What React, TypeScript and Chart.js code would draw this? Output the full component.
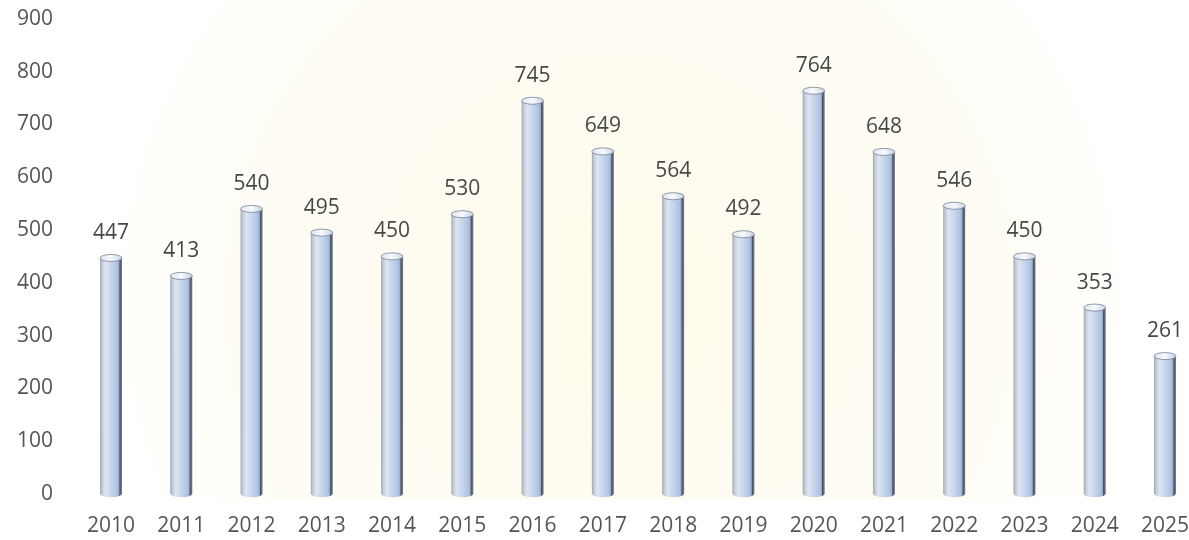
import React, { useEffect, useRef } from "react";
import { Chart, registerables } from "chart.js";

Chart.register(...registerables);

const years = ["2010","2011","2012","2013","2014","2015","2016","2017","2018","2019","2020","2021","2022","2023","2024","2025"];
const counts = [447, 413, 540, 495, 450, 530, 745, 649, 564, 492, 764, 648, 546, 450, 353, 261];
const yTicks = [0, 100, 200, 300, 400, 500, 600, 700, 800, 900];

const FONT = "'Open Sans', 'DejaVu Sans', sans-serif";
const X_PAD = 20;
const Y_PAD = 58;

const paperPlugin = {
  id: "paper",
  beforeDraw(chart: any) {
    const { ctx, width, height } = chart;
    ctx.save();
    ctx.fillStyle = "#ffffff";
    ctx.fillRect(0, 0, width, height);
    const g = ctx.createRadialGradient(620, 300, 40, 620, 300, 620);
    g.addColorStop(0, "rgba(252,244,200,0.35)");
    g.addColorStop(0.6, "rgba(252,246,210,0.22)");
    g.addColorStop(1, "rgba(255,255,255,0)");
    ctx.fillStyle = g;
    ctx.fillRect(70, 0, width - 70, height - 40);
    ctx.restore();
  },
};

const cylinderPlugin = {
  id: "cylinders",
  afterDatasetsDraw(chart: any) {
    const { ctx } = chart;
    const meta = chart.getDatasetMeta(0);
    ctx.save();
    meta.data.forEach((bar: any, i: number) => {
      const { x, y, base, width } = bar.getProps(["x", "y", "base", "width"], true);
      const l = x - width / 2;
      const r = x + width / 2;
      const ry = 3.5;
      const g = ctx.createLinearGradient(l, 0, r, 0);
      g.addColorStop(0, "#9ea6b6");
      g.addColorStop(0.1, "#c4ccda");
      g.addColorStop(0.25, "#dde5f2");
      g.addColorStop(0.5, "#c6d6ed");
      g.addColorStop(0.78, "#adc3e3");
      g.addColorStop(0.86, "#94aacd");
      g.addColorStop(0.9, "#4b505c");
      g.addColorStop(1, "#7a808c");
      ctx.fillStyle = g;
      ctx.beginPath();
      ctx.moveTo(l, y);
      ctx.lineTo(l, base);
      ctx.ellipse(x, base, width / 2, ry, 0, Math.PI, 0, true);
      ctx.lineTo(r, y);
      ctx.closePath();
      ctx.fill();
      const tg = ctx.createLinearGradient(l, 0, r, 0);
      tg.addColorStop(0, "#dfe6f1");
      tg.addColorStop(0.5, "#f7f9fc");
      tg.addColorStop(1, "#c8d4e6");
      ctx.fillStyle = tg;
      ctx.beginPath();
      ctx.ellipse(x, y, width / 2, ry, 0, 0, Math.PI * 2);
      ctx.fill();
      ctx.strokeStyle = "rgba(120,130,150,0.8)";
      ctx.lineWidth = 1;
      ctx.stroke();
      ctx.fillStyle = "#474747";
      ctx.font = `21px ${FONT}`;
      ctx.textAlign = "center";
      ctx.textBaseline = "middle";
      ctx.fillText(String(counts[i]), x, y - 25);
    });
    ctx.restore();
  },
};

export default function App() {
  const ref = useRef<HTMLCanvasElement>(null);
  useEffect(() => {
    document.body.style.margin = "0";
    const canvas = ref.current;
    if (!canvas) return;
    const chart = new Chart(canvas, {
      type: "bar",
      data: {
        labels: years,
        datasets: [
          {
            data: counts,
            backgroundColor: "rgba(0,0,0,0)",
            barThickness: 22,
            clip: false as any,
          },
        ],
      },
      options: {
        animation: false,
        responsive: false,
        maintainAspectRatio: false,
        layout: { padding: { left: 17, right: 24, top: 19, bottom: 1 } },
        plugins: { legend: { display: false }, tooltip: { enabled: false } },
        scales: {
          x: {
            offset: false,
            grid: { display: false, drawTicks: false },
            border: { display: false },
            afterFit: (scale: any) => {
              scale.paddingLeft = 0;
              scale.paddingRight = 0;
              scale.height = scale.height - X_PAD;
            },
            ticks: {
              color: "#555555",
              font: { family: FONT, size: 21 },
              padding: X_PAD,
              maxRotation: 0,
              autoSkip: false,
            },
          },
          y: {
            min: 0,
            max: 900,
            afterBuildTicks: (scale: any) => {
              scale.ticks = yTicks.map((v) => ({ value: v }));
            },
            afterFit: (scale: any) => {
              scale.paddingTop = 0;
              scale.paddingBottom = 0;
              scale.width = scale.width - Y_PAD;
            },
            grid: { display: false, drawTicks: false },
            border: { display: false },
            ticks: {
              color: "#555555",
              font: { family: FONT, size: 21 },
              padding: Y_PAD,
            },
          },
        },
      },
      plugins: [paperPlugin, cylinderPlugin],
    });
    return () => chart.destroy();
  }, []);
  return (
    <div style={{ width: 1189, height: 540 }}>
      <canvas ref={ref} width={1189} height={540} style={{ display: "block" }} />
    </div>
  );
}
